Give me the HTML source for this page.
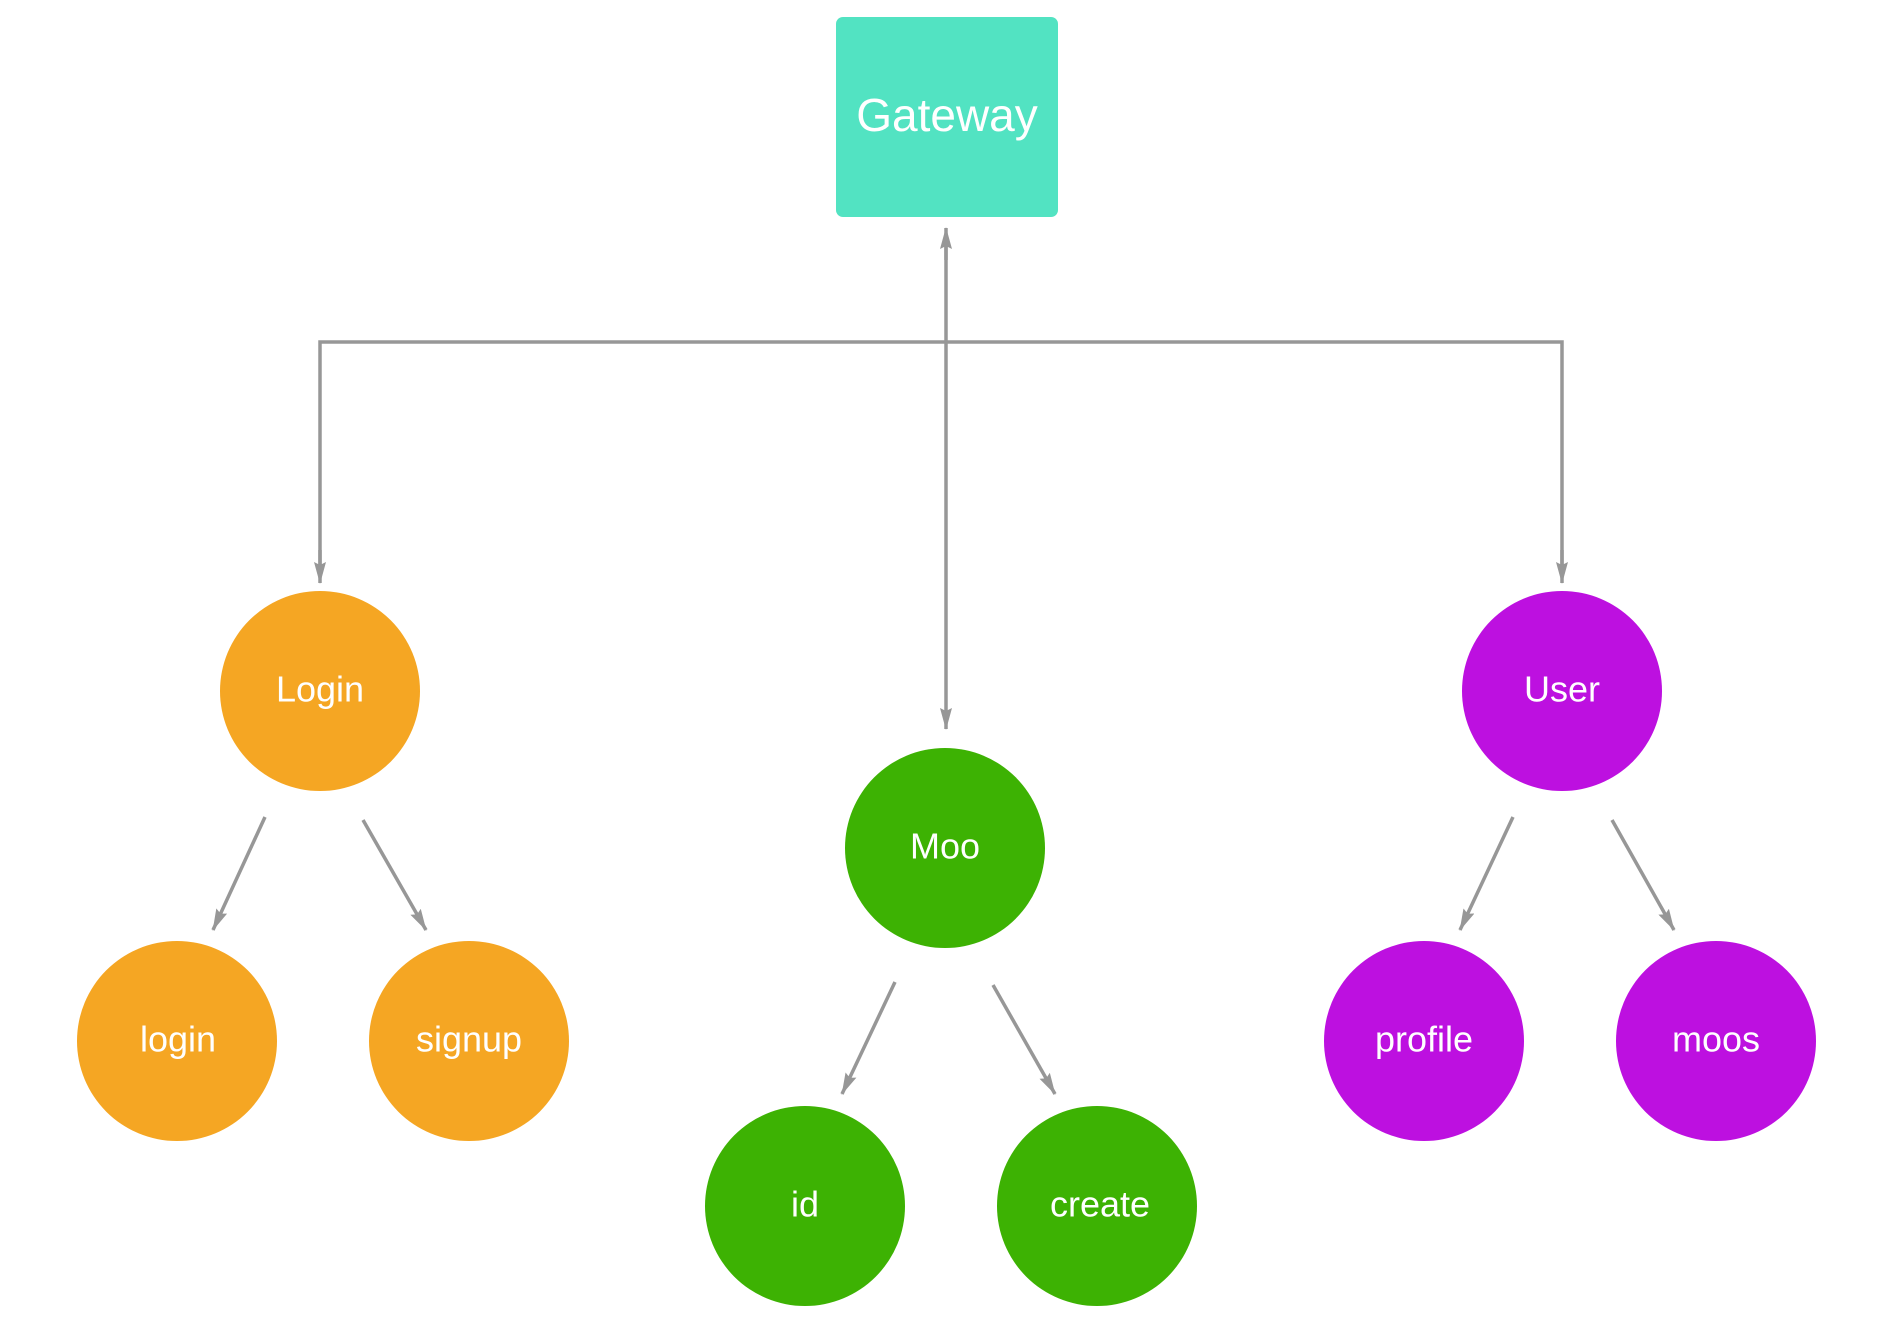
<!DOCTYPE html>
<html><head><meta charset="utf-8"><style>
html,body{margin:0;padding:0;background:#fff;}
svg{display:block;}
text{font-family:"Liberation Sans",sans-serif;fill:#fff;text-anchor:middle;dominant-baseline:central;}
</style></head><body>
<svg width="1897" height="1326" viewBox="0 0 1897 1326" xmlns="http://www.w3.org/2000/svg">
<defs>
<marker id="a" markerWidth="22" markerHeight="12" refX="21" refY="6" orient="auto" markerUnits="userSpaceOnUse" viewBox="0 0 22 12">
<path d="M0,0 L22,6 L0,12 L3,6 Z" fill="#979797"/>
</marker>
</defs>
<rect x="836" y="17" width="222" height="200" rx="7" fill="#52E3C2"/>
<text x="947" y="115" font-size="46">Gateway</text>

<g stroke="#979797" stroke-width="3.5" fill="none">
<line x1="946" y1="260" x2="946" y2="228" marker-end="url(#a)"/>
<line x1="946" y1="240" x2="946" y2="729" marker-end="url(#a)"/>
<polyline points="320,570 320,342 1562,342 1562,570" fill="none"/>
<line x1="320" y1="550" x2="320" y2="583" marker-end="url(#a)"/>
<line x1="1562" y1="550" x2="1562" y2="583" marker-end="url(#a)"/>
<line x1="265" y1="817" x2="213" y2="930" marker-end="url(#a)"/>
<line x1="363" y1="820" x2="426" y2="930" marker-end="url(#a)"/>
<line x1="895" y1="982" x2="842" y2="1094" marker-end="url(#a)"/>
<line x1="993" y1="985" x2="1055" y2="1094" marker-end="url(#a)"/>
<line x1="1513" y1="817" x2="1460" y2="930" marker-end="url(#a)"/>
<line x1="1612" y1="820" x2="1674" y2="930" marker-end="url(#a)"/>
</g>

<circle cx="320" cy="691" r="100" fill="#F5A623"/>
<text x="320" y="689" font-size="36">Login</text>
<circle cx="945" cy="848" r="100" fill="#3DB203"/>
<text x="945" y="846" font-size="36">Moo</text>
<circle cx="1562" cy="691" r="100" fill="#BD10E0"/>
<text x="1562" y="689" font-size="36">User</text>

<circle cx="177" cy="1041" r="100" fill="#F5A623"/>
<text x="178" y="1039" font-size="36">login</text>
<circle cx="469" cy="1041" r="100" fill="#F5A623"/>
<text x="469" y="1039" font-size="36">signup</text>

<circle cx="805" cy="1206" r="100" fill="#3DB203"/>
<text x="805" y="1204" font-size="36">id</text>
<circle cx="1097" cy="1206" r="100" fill="#3DB203"/>
<text x="1100" y="1204" font-size="36">create</text>

<circle cx="1424" cy="1041" r="100" fill="#BD10E0"/>
<text x="1424" y="1039" font-size="36">profile</text>
<circle cx="1716" cy="1041" r="100" fill="#BD10E0"/>
<text x="1716" y="1039" font-size="36">moos</text>
</svg>
</body></html>
